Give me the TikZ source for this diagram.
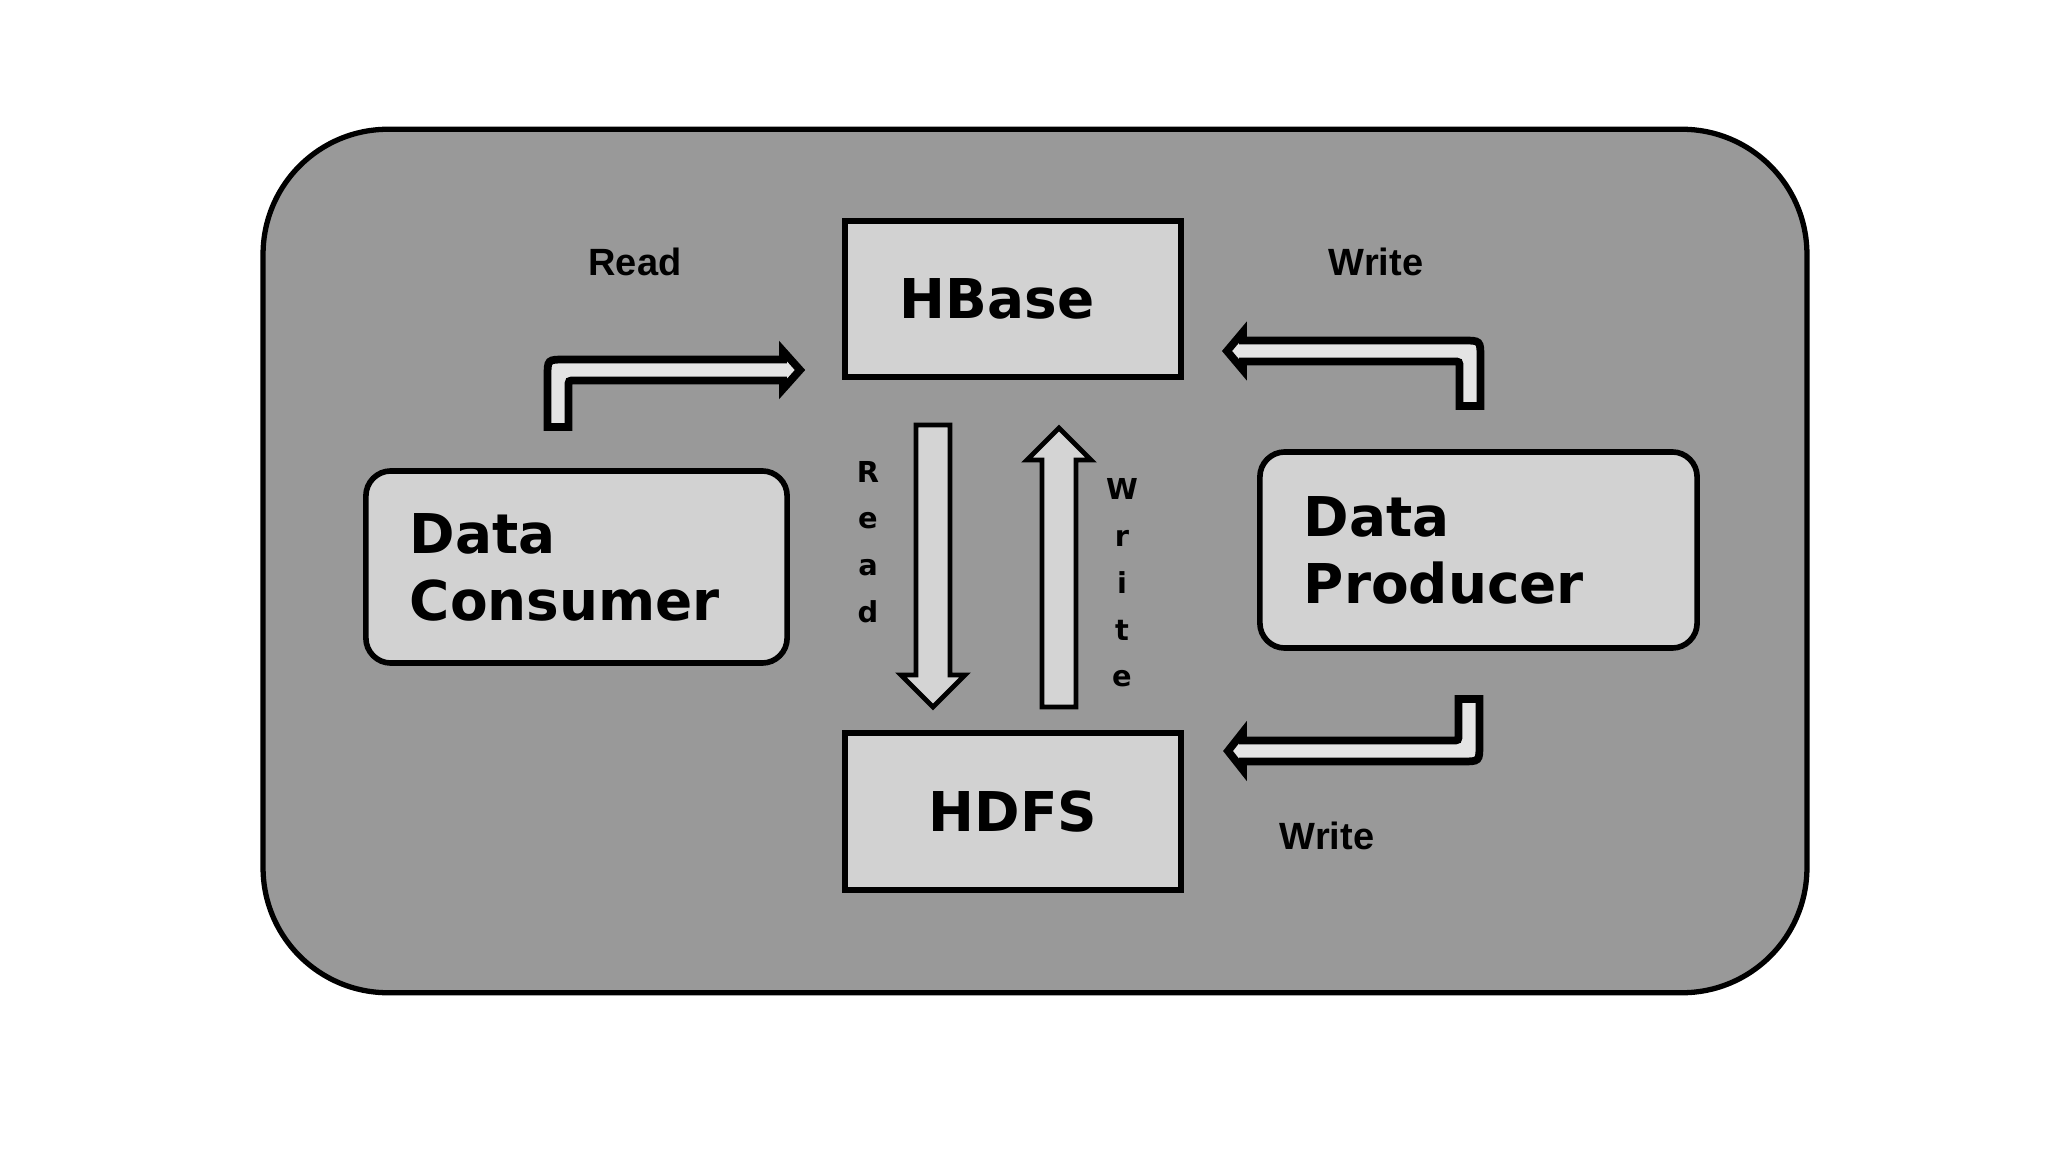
\documentclass[tikz,border=0pt]{standalone}
\usepackage{fontspec}
\setmainfont{DejaVu Sans}
\newfontfamily\labfont{Liberation Sans}
\definecolor{bggray}{RGB}{153,153,153}
\definecolor{boxgray}{RGB}{210,210,210}
\definecolor{arrfill}{RGB}{212,212,212}
\definecolor{thinfill}{RGB}{228,228,228}
\begin{document}
\begin{tikzpicture}[x=0.01cm,y=-0.01cm,
  bigtext/.style={font=\bfseries\fontsize{15.6pt}{19pt}\selectfont},
  lab/.style={font=\labfont\bfseries\fontsize{10.8pt}{13pt}\selectfont, inner sep=0},
  vlab/.style={font=\bfseries\fontsize{8.2pt}{13.3pt}\selectfont, align=center, inner sep=0},
  frame/.style={draw=black, line width=1.5pt, fill=bggray, rounded corners=1.25cm,
    minimum width=15.43cm, minimum height=8.63cm, inner sep=0},
  store/.style={draw=black, line width=1.7pt, fill=boxgray, bigtext, inner sep=0},
  actor/.style={draw=black, line width=1.6pt, fill=boxgray, rounded corners=0.25cm,
    bigtext, align=left, inner xsep=0.44cm, inner ysep=0},
  blockarrow/.style={draw=black, line width=1.4pt, fill=arrfill, line join=miter},
  bentarrow/.style={draw=black, line width=2.2pt, fill=thinfill, line join=miter}
]
\useasboundingbox (0,0) rectangle (2048,1152);
\fill[white] (0,0) rectangle (2048,1152);

\node[frame] (frame) at (1035,561) {};

\node[store, minimum width=3.36cm, minimum height=1.55cm] (hbase) at (1013,299) {HBase\hspace*{0.32cm}};
\node[store, minimum width=3.35cm, minimum height=1.57cm] (hdfs) at (1013,811.5) {HDFS};

\node[actor, minimum width=4.21cm, minimum height=1.92cm, text width=3.33cm] (consumer) at (576.5,567) {Data\\Consumer};
\node[actor, minimum width=4.37cm, minimum height=1.96cm, text width=3.49cm] (producer) at (1478.5,550) {Data\\Producer};

% Read: consumer -> hbase
\draw[bentarrow] (547.5,427) -- (547.5,377) .. controls (547.5,359.5) .. (565,359.5)
  -- (783,359.5) -- (783,351) -- (800,370) -- (783,389) -- (783,380.5)
  -- (574.5,380.5) .. controls (568.5,380.5) .. (568.5,386.5)
  -- (568.5,427) -- cycle;
% Write: producer -> hbase
\draw[bentarrow] (1480.5,406) -- (1480.5,358) .. controls (1480.5,340.5) .. (1463,340.5)
  -- (1243,340.5) -- (1243,332) -- (1227,351) -- (1243,370) -- (1243,361.5)
  -- (1453.5,361.5) .. controls (1459.5,361.5) .. (1459.5,367.5)
  -- (1459.5,406) -- cycle;
% Write: producer -> hdfs
\draw[bentarrow] (1479.5,699) -- (1479.5,744) .. controls (1479.5,761.5) .. (1462,761.5)
  -- (1243,761.5) -- (1243,770) -- (1228,751) -- (1243,732) -- (1243,740.5)
  -- (1452.5,740.5) .. controls (1458.5,740.5) .. (1458.5,734.5)
  -- (1458.5,699) -- cycle;

% Read: hbase -> hdfs
\draw[blockarrow] (916,425) -- (950,425) -- (950,675) -- (965,675) -- (933,707)
  -- (901,675) -- (916,675) -- cycle;
% Write: hdfs -> hbase
\draw[blockarrow] (1042,707) -- (1076,707) -- (1076,460) -- (1091,460) -- (1059,428)
  -- (1027,460) -- (1042,460) -- cycle;

\node[lab] (readlab) at (635,262) {Read};
\node[lab] (writetop) at (1376,262) {Write};
\node[lab] (writebot) at (1327,836) {Write};
\node[vlab] (vread) at (868,542) {R\\e\\a\\d};
\node[vlab] (vwrite) at (1122,583) {W\\r\\i\\t\\e};
\end{tikzpicture}
\end{document}
